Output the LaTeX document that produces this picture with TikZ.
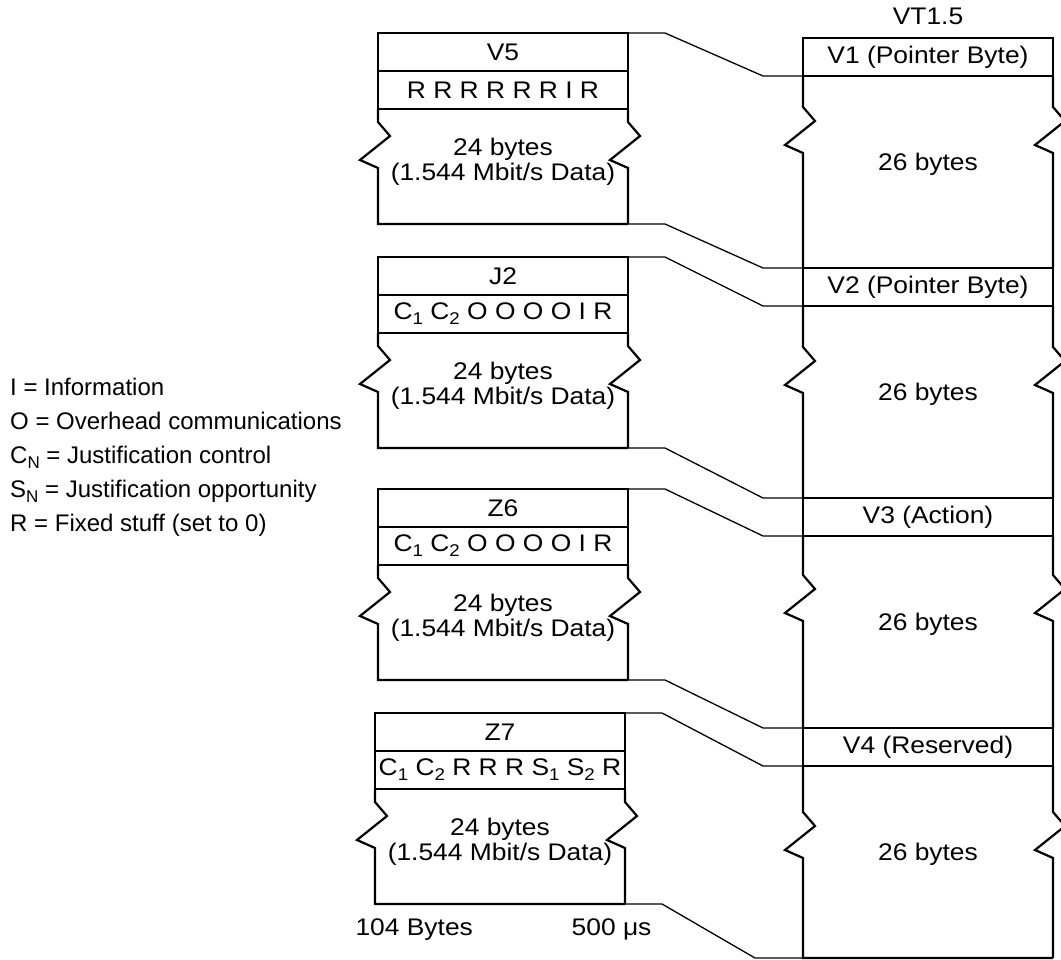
\documentclass[tikz,border=0pt]{standalone}
\usepackage{fontspec}
\setmainfont{Liberation Sans}
\newfontfamily\boxfont{Liberation Sans}[FakeStretch=1.1]
\usetikzlibrary{positioning}
\newcommand{\lowidx}[1]{\raisebox{-5pt}{\fontsize{17}{17}\selectfont #1}}

\begin{document}
\begin{tikzpicture}[x=1pt, y=1pt, every node/.style={align=center},
    row/.style={
        draw,
        line width=2.2pt,
        minimum width=250pt,
        minimum height=38pt,
        inner sep=0pt,
        outer sep=0pt,
        font=\boxfont\fontsize{24}{25}\selectfont
    },
    data/.style={
        minimum width=250pt,
        inner sep=0pt,
        outer sep=0pt
    },
    datatext/.style={font=\boxfont\fontsize{24}{25}\selectfont},
    side/.style={line width=2.2pt},
    link/.style={line width=1.3pt},
    torn/.style={to path={-- ++(0,-#1) -- ++(12,-14) -- ++(-30,-24) -- ++(18,-8) -- (\tikztotarget)}}]

    \useasboundingbox (0,0) rectangle (1061,-960);

    % Legend
    \node[anchor=north west, align=left, inner sep=0pt, font=\fontsize{24}{34}\selectfont] (legend) at (10,-378)
        {I = Information\\O = Overhead communications\\C\lowidx{N} = Justification control\\S\lowidx{N} = Justification opportunity\\R = Fixed stuff (set to 0)};

    % VT1.5 column
    \node[datatext, anchor=base] (vt) at (928,-25) {VT1.5};
    \node[row, anchor=north west] (v1) at (803,-38) {V1 (Pointer Byte)};
    \node[data, minimum height=192pt, below=0pt of v1] (v1data) {};
    \node[row, below=0pt of v1data] (v2) {V2 (Pointer Byte)};
    \node[data, minimum height=192pt, below=0pt of v2] (v2data) {};
    \node[row, below=0pt of v2data] (v3) {V3 (Action)};
    \node[data, minimum height=192pt, below=0pt of v3] (v3data) {};
    \node[row, below=0pt of v3data] (v4) {V4 (Reserved)};
    \node[data, minimum height=192pt, below=0pt of v4] (v4data) {};

    \draw[side] (v1.south west) to[torn=31] (v2.north west);
    \draw[side] (v1.south east) to[torn=31] (v2.north east);
    \draw[side] (v2.south west) to[torn=41] (v3.north west);
    \draw[side] (v2.south east) to[torn=41] (v3.north east);
    \draw[side] (v3.south west) to[torn=39] (v4.north west);
    \draw[side] (v3.south east) to[torn=39] (v4.north east);
    \draw[side] (v4.south west) to[torn=46] (v4data.south west) -- (v4data.south east);
    \draw[side] (v4.south east) to[torn=46] (v4data.south east);

    \node[datatext] (v1txt) at ([yshift=8pt]v1data.center) {26 bytes};
    \node[datatext] (v2txt) at ([yshift=8pt]v2data.center) {26 bytes};
    \node[datatext] (v3txt) at ([yshift=8pt]v3data.center) {26 bytes};
    \node[datatext] (v4txt) at ([yshift=8pt]v4data.center) {26 bytes};

    % V5 frame
    \node[row, anchor=north west] (v5) at (378,-33) {V5};
    \node[row, below=0pt of v5] (v5bits) {R R R R R R I R};
    \node[data, minimum height=115pt, below=0pt of v5bits] (v5data) {};
    \draw[side] (v5bits.south west) to[torn=13] (v5data.south west) -- (v5data.south east);
    \draw[side] (v5bits.south east) to[torn=13] (v5data.south east);
    \node[datatext] (v5txt) at ([yshift=5pt]v5data.center) {24 bytes\\(1.544 Mbit/s Data)};

    % J2 frame
    \node[row, anchor=north west] (j2) at (378,-257) {J2};
    \node[row, below=0pt of j2] (j2bits) {C\lowidx{1} C\lowidx{2} O O O O I R};
    \node[data, minimum height=115pt, below=0pt of j2bits] (j2data) {};
    \draw[side] (j2bits.south west) to[torn=13] (j2data.south west) -- (j2data.south east);
    \draw[side] (j2bits.south east) to[torn=13] (j2data.south east);
    \node[datatext] (j2txt) at ([yshift=5pt]j2data.center) {24 bytes\\(1.544 Mbit/s Data)};

    % Z6 frame
    \node[row, anchor=north west] (z6) at (378,-489) {Z6};
    \node[row, below=0pt of z6] (z6bits) {C\lowidx{1} C\lowidx{2} O O O O I R};
    \node[data, minimum height=115pt, below=0pt of z6bits] (z6data) {};
    \draw[side] (z6bits.south west) to[torn=13] (z6data.south west) -- (z6data.south east);
    \draw[side] (z6bits.south east) to[torn=13] (z6data.south east);
    \node[datatext] (z6txt) at ([yshift=5pt]z6data.center) {24 bytes\\(1.544 Mbit/s Data)};

    % Z7 frame
    \node[row, anchor=north west] (z7) at (375,-713) {Z7};
    \node[row, below=0pt of z7] (z7bits) {C\lowidx{1} C\lowidx{2} R R R S\lowidx{1} S\lowidx{2} R};
    \node[data, minimum height=115pt, below=0pt of z7bits] (z7data) {};
    \draw[side] (z7bits.south west) to[torn=13] (z7data.south west) -- (z7data.south east);
    \draw[side] (z7bits.south east) to[torn=13] (z7data.south east);
    \node[datatext] (z7txt) at ([yshift=5pt]z7data.center) {24 bytes\\(1.544 Mbit/s Data)};

    \node[datatext, anchor=base west] (size) at (352,-935) {104 Bytes};
    \node[datatext, anchor=base east] (period) at (655,-935) {500 μs};

    % Mapping lines
    \draw[link] (v5.north east) -- ++(37,0) -- ([xshift=-40pt]v1.south west) -- (v1.south west);
    \draw[link] (v5data.south east) -- ++(37,0) -- ([xshift=-40pt]v2.north west) -- (v2.north west);
    \draw[link] (j2.north east) -- ++(37,0) -- ([xshift=-40pt]v2.south west) -- (v2.south west);
    \draw[link] (j2data.south east) -- ++(37,0) -- ([xshift=-40pt]v3.north west) -- (v3.north west);
    \draw[link] (z6.north east) -- ++(37,0) -- ([xshift=-40pt]v3.south west) -- (v3.south west);
    \draw[link] (z6data.south east) -- ++(37,0) -- ([xshift=-40pt]v4.north west) -- (v4.north west);
    \draw[link] (z7.north east) -- ++(37,0) -- ([xshift=-40pt]v4.south west) -- (v4.south west);
    \draw[link] (z7data.south east) -- ++(37,0) -- ([xshift=-48pt]v4data.south west) -- (v4data.south west);

\end{tikzpicture}
\end{document}
